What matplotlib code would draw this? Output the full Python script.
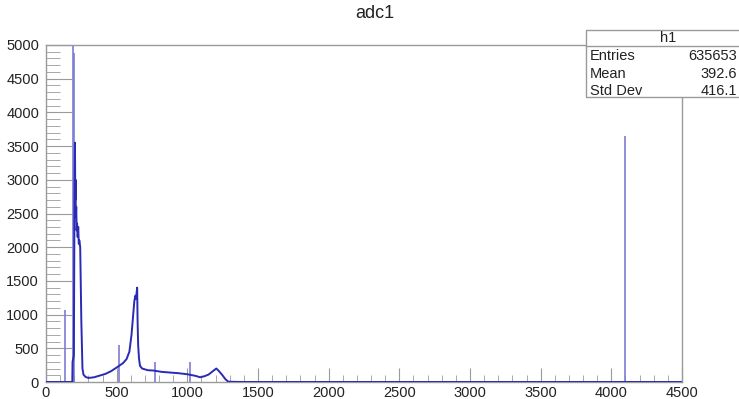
import matplotlib.pyplot as plt
from matplotlib.patches import Rectangle
from matplotlib.ticker import MultipleLocator

plt.rcParams['font.family'] = ['Liberation Sans', 'DejaVu Sans']

# adc1 spectrum: bin position and counts along the continuum
adc_x = [0, 128, 186, 188, 193, 197, 202, 205, 207, 209, 211, 214, 217, 220, 224,
         228, 232, 236, 242, 250, 258, 265, 280, 300, 340, 380, 420, 460, 500,
         545, 570, 590, 605, 615, 625, 632, 636, 641, 645, 648, 652, 658, 665,
         680, 720, 760, 820, 880, 940, 1000, 1060, 1090, 1120, 1150, 1180, 1205,
         1220, 1245, 1270, 1290, 1330, 1400, 4500]
adc_counts = [0, 0, 0, 300, 350, 400, 2900, 3550, 2700, 3000, 2450, 2600, 2250,
              2350, 2150, 2300, 2050, 2100, 2000, 900, 200, 110, 75, 60, 70, 95,
              120, 160, 215, 280, 340, 450, 700, 950, 1200, 1280, 1230, 1320,
              1400, 900, 550, 350, 240, 200, 175, 170, 150, 140, 130, 115, 90,
              70, 85, 110, 160, 200, 170, 110, 40, 5, 2, 0, 0]

# single-bin spikes
spike_x = [134, 191, 199, 515, 770, 1020, 4095]
spike_counts = [1070, 5600, 4880, 550, 300, 300, 3650]

# statistics box
stat_name = 'h1'
stat_labels = ['Entries', 'Mean', 'Std Dev']
stat_values = ['635653', '392.6', '416.1']

W, H = 739, 399
fig = plt.figure(figsize=(W / 100, H / 100), dpi=100)
ax = fig.add_axes([46 / W, 1 - 382 / H, 636 / W, 337 / H])

line_col = '#2a2ab4'
ax.vlines(spike_x, 0, spike_counts, color='#7b7bd6', lw=1.2, zorder=2)
ax.plot(adc_x, adc_counts, color=line_col, lw=1.4, zorder=3)

ax.set_xlim(0, 4500)
ax.set_ylim(0, 5000)

frame_col = '#9a9a9a'
for s in ax.spines.values():
    s.set_color(frame_col)
    s.set_linewidth(1.0)

ax.xaxis.set_major_locator(MultipleLocator(500))
ax.xaxis.set_minor_locator(MultipleLocator(100))
ax.yaxis.set_major_locator(MultipleLocator(500))
ax.yaxis.set_minor_locator(MultipleLocator(100))
ax.tick_params(axis='x', which='major', direction='in', length=10, color=frame_col,
               labelsize=10.5, pad=3, labelcolor='#222222', top=False)
ax.tick_params(axis='x', which='minor', direction='in', length=5, color=frame_col, top=False)
ax.tick_params(axis='y', which='major', direction='in', length=19, color=frame_col,
               labelsize=10.5, pad=5, labelcolor='#222222', right=False)
ax.tick_params(axis='y', which='minor', direction='in', length=10, color=frame_col, right=False)

fig.text(375 / W, 1 - 14 / H, 'adc1', ha='center', va='center', fontsize=13, color='#222222')

# stats box in pixel-like figure coordinates
def fx(px):
    return px / W

def fy(py):
    return 1 - py / H

box = Rectangle((fx(586), fy(97)), fx(752) - fx(586), fy(30) - fy(97),
                transform=fig.transFigure, facecolor='white', edgecolor=frame_col,
                lw=1.0, zorder=10, clip_on=False)
fig.add_artist(box)
fig.add_artist(plt.Line2D([fx(586), fx(752)], [fy(46), fy(46)], transform=fig.transFigure,
                          color=frame_col, lw=1.0, zorder=11))
fig.text(fx(668), fy(38), stat_name, ha='center', va='center', fontsize=10.5,
         color='#222222', zorder=12)
for i, (lab, val) in enumerate(zip(stat_labels, stat_values)):
    yy = fy(56 + i * 17.5)
    fig.text(fx(590), yy, lab, ha='left', va='center', fontsize=10.5, color='#222222', zorder=12)
    fig.text(fx(737), yy, val, ha='right', va='center', fontsize=10.5, color='#222222', zorder=12)

fig.savefig('out.png', dpi=100)
